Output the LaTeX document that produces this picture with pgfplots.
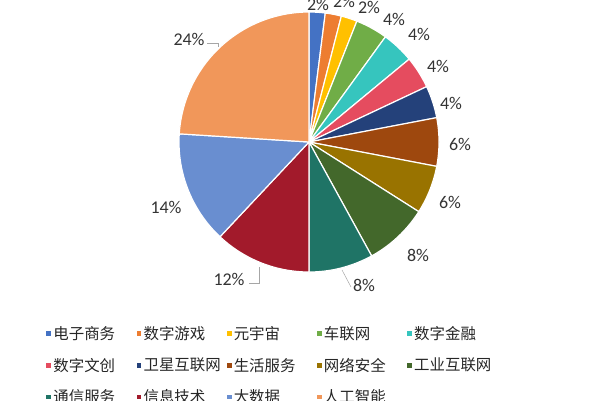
\documentclass[border=0pt]{standalone}
\usepackage{pgfplots}
\usepackage{pgfplotstable}
\pgfplotsset{compat=1.18}
\usepackage{fontspec}
\setmainfont{Carlito}
\newfontfamily\cjk{Noto Sans CJK SC}

\definecolor{slice0}{HTML}{4472C4}
\definecolor{slice1}{HTML}{ED7D31}
\definecolor{slice2}{HTML}{FFC000}
\definecolor{slice3}{HTML}{70AD47}
\definecolor{slice4}{HTML}{36C5BE}
\definecolor{slice5}{HTML}{E54C5F}
\definecolor{slice6}{HTML}{24417A}
\definecolor{slice7}{HTML}{9E480E}
\definecolor{slice8}{HTML}{997300}
\definecolor{slice9}{HTML}{43682B}
\definecolor{slice10}{HTML}{1F7466}
\definecolor{slice11}{HTML}{A21A2B}
\definecolor{slice12}{HTML}{698ED0}
\definecolor{slice13}{HTML}{F1975A}

% share of each field, in percent, clockwise from 12 o'clock
\pgfplotstableread{
name value
电子商务 2
数字游戏 2
元宇宙 2
车联网 4
数字金融 4
数字文创 4
卫星互联网 4
生活服务 6
网络安全 6
工业互联网 8
通信服务 8
信息技术 12
大数据 14
人工智能 24
}\shares

\def\cx{309}
\def\cy{258}
\def\rad{130}

\begin{document}
\begin{tikzpicture}
\begin{axis}[
    scale only axis, width=600bp, height=400bp,
    xmin=0, xmax=600, ymin=0, ymax=400,
    hide axis, clip=false,
    legend columns=5,
    legend style={
        at={(0.07,0.192)}, anchor=north west,
        draw=none, fill=none,
        font=\cjk\fontsize{15.5}{17}\selectfont,
        text=black!85,
        row sep=15bp,
        nodes={inner xsep=1bp, inner ysep=1bp},
        /tikz/every even column/.append style={column sep=0bp},
    },
    legend cell align=left,
    legend image code/.code={\fill[#1] (0bp,-3bp) rectangle (6bp,3bp);},
]
\coordinate (bl) at (axis cs:0,0);
\coordinate (tr) at (axis cs:600,400);
\def\cum{0}
\pgfplotsforeachungrouped \i in {0,...,13}{%
    \pgfplotstablegetelem{\i}{value}\of\shares
    \pgfmathsetmacro\nxt{\cum+\pgfplotsretval}%
    \pgfplotstablegetelem{\i}{name}\of\shares
    \let\nm\pgfplotsretval
    \edef\cmd{\noexpand\addplot[fill=slice\i, draw=white, line width=1.2pt,
        domain={90-3.6*\nxt}:{90-3.6*\cum}, samples=60, variable=\noexpand\t]
        ({\cx+\rad*cos(\noexpand\t)},{\cy+\rad*sin(\noexpand\t)})
        -- (axis cs:\cx,\cy) -- cycle;
        \noexpand\addlegendentry{\hbox to 81bp{\nm\hss}}}%
    \cmd
    \global\let\cum\nxt
}

% data labels
\begin{scope}[every node/.style={font=\fontsize{18}{19}\selectfont, text=black!80}]
\node at (axis cs:318,396) {2\%};
\node at (axis cs:344,399) {2\%};
\node at (axis cs:369,393) {2\%};
\node at (axis cs:394,381) {4\%};
\node at (axis cs:419,366) {4\%};
\node at (axis cs:438,334) {4\%};
\node at (axis cs:451,297) {4\%};
\node at (axis cs:460,256) {6\%};
\node at (axis cs:450,198) {6\%};
\node at (axis cs:418,145) {8\%};
\node at (axis cs:364,115) {8\%};
\node at (axis cs:229,121) {12\%};
\node at (axis cs:166,193) {14\%};
\node at (axis cs:189,361) {24\%};
\end{scope}
\draw[gray!70, line width=0.5pt] (axis cs:342,130) -- (axis cs:351,113);
\draw[gray!70, line width=0.5pt] (axis cs:249,117) -- (axis cs:259,117) -- (axis cs:259,133);
\draw[gray!70, line width=0.5pt] (axis cs:207,357) -- (axis cs:218,357) -- (axis cs:218,353);
\end{axis}
\pgfresetboundingbox
\path[use as bounding box] (bl) rectangle (tr);
\end{tikzpicture}
\end{document}
